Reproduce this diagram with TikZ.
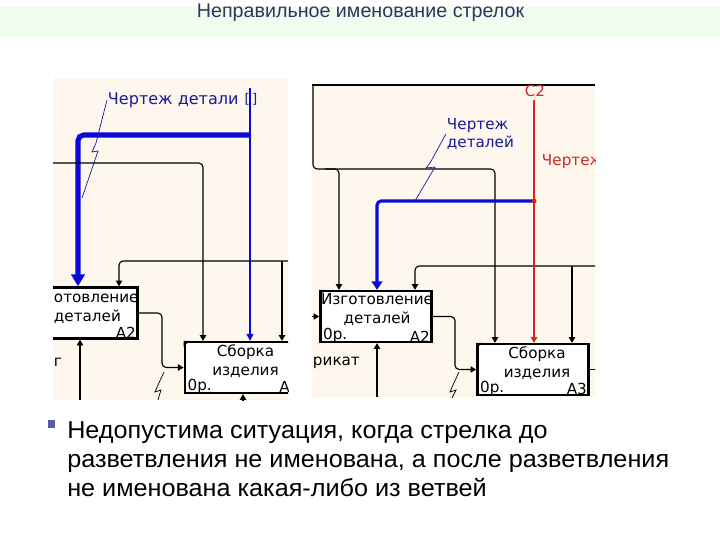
\documentclass[tikz,border=0pt]{standalone}
\usepackage{fontspec}
\setmainfont{Liberation Sans}
\newfontfamily\diagfont{DejaVu Sans}
\usepackage{graphicx}
\usetikzlibrary{arrows.meta,positioning,calc}
\definecolor{idefpaper}{RGB}{253,247,238}
\definecolor{idefblue}{RGB}{10,10,215}
\definecolor{idefnavy}{RGB}{25,25,150}
\definecolor{idefred}{RGB}{215,35,35}
\definecolor{slidegreen}{RGB}{241,252,239}
\definecolor{slideink}{RGB}{50,52,95}
\definecolor{bulletblue}{RGB}{90,90,170}

\begin{document}
\begin{tikzpicture}[x=0.025cm,y=-0.025cm,
  box/.style={draw,line width=1.8pt,fill=white,minimum width=2.78cm,minimum height=1.27cm,inner sep=0pt},
  lbl/.style={font=\diagfont\fontsize{10.8}{13.2}\selectfont,inner sep=0.5pt},
  pipe/.style={line width=0.8pt,rounded corners=3pt},
  tip/.style={-{Triangle[length=4pt,width=4.5pt]}},
  zz/.style={line width=0.5pt}]
\useasboundingbox (0,0) rectangle (720,540);
\fill[slidegreen] (0,7) rectangle (720,37);
\node[font=\fontsize{14}{16}\selectfont,text=slideink,anchor=base,inner sep=0pt] (title) at (360.5,17) {Неправильное именование стрелок};

% left panel
\fill[idefpaper] (53,78) rectangle (288,400);
\begin{scope}
\clip (53,78) rectangle (288,400);
\node[box] (lA2) at (82,313) {};
\node[box] (lA3) at (240.5,367.5) {};
\fill (lA3.north west) -- ++(6,0) -- ++(-6,6) -- cycle;
\node[lbl,anchor=north west,align=left] (lA2t) at (53,293) {отовление\\ деталей};
\node[lbl,anchor=south east] (lA2n) at ([shift={(-2,0)}]lA2.south east) {A2};
\node[lbl,anchor=north,align=center] (lA3t) at ([shift={(5,3)}]lA3.north) {Сборка\\изделия};
\node[lbl,anchor=south west] (lA3c) at ([shift={(3,0)}]lA3.south west) {0р.};
\node[lbl,anchor=south east] (lA3n) at ([shift={(3,0)}]lA3.south east) {A3};
\node[lbl,anchor=west] (lG) at (53,362) {г};
% blue arrows
\node[lbl,text=idefnavy,anchor=west,font=\diagfont\fontsize{11.4}{14}\selectfont] (lDrw) at (107,100) {Чертеж детали};
\node[lbl,text=idefnavy,font=\diagfont\fontsize{9.5}{12}\selectfont] (lTun) at (251,99) {[\kern1.5pt]};
\coordinate (lC) at (250,88);
\coordinate (lSplit) at (250,135);
\coordinate (lBend) at (78,135);
\draw[idefblue,line width=0.8pt,-{Triangle[length=5pt,width=5pt]}] (lC) -- (lC |- lA3.north);
\draw[idefblue,line width=3.6pt,rounded corners=4pt,-{Triangle[length=8.5pt,width=9.5pt]}] (lSplit) -- (lBend) -- (lBend |- lA2.north);
\draw[zz,idefnavy] (lDrw.west) -- (96,143) -- (92,152) -- (98,151) -- (82,198);
% black arrows
\coordinate (lIn) at (53,163);
\coordinate (lK) at (203,163);
\draw[pipe,tip] (lIn) -- (lK) -- (lK |- lA3.north);
\coordinate (lM) at (119,261);
\coordinate (lMr) at (288,261);
\coordinate (lMb) at (282,261);
\draw[pipe,tip] (lMr) -- (lM) -- (lM |- lA2.north);
\draw[pipe,tip] (lMb) -- (lMb |- lA3.north);
\coordinate (lMech) at (80,400);
\draw[pipe,tip] (lMech) -- (lMech |- lA2.south);
\coordinate (lOut) at (162,313);
\draw[pipe,tip] (lA2.east) -- (lOut) -- (lOut |- lA3.west) -- (lA3.west);
\draw[zz] (164,372) -- (158,385) -- (155,392) -- (161,390) -- (158,400);
\coordinate (lOutB) at (243,400);
\draw[pipe,tip] (lOutB) -- (lOutB |- lA3.south);
\end{scope}

% right panel
\fill[idefpaper] (312,83) rectangle (595,397);
\begin{scope}
\clip (312,83) rectangle (595,397);
\node[box] (rA2) at (376,316.5) {};
\node[box] (rA3) at (533,369.5) {};
\foreach \b in {rA2,rA3} \fill (\b.north west) -- ++(6,0) -- ++(-6,6) -- cycle;
\node[lbl,anchor=north,align=center] (rA2t) at ([shift={(1,3)}]rA2.north) {Изготовление\\деталей};
\node[lbl,anchor=south west] (rA2c) at ([shift={(3,0)}]rA2.south west) {0р.};
\node[lbl,anchor=south east] (rA2n) at ([shift={(-2,0)}]rA2.south east) {A2};
\node[lbl,anchor=north,align=center] (rA3t) at ([shift={(4,3)}]rA3.north) {Сборка\\изделия};
\node[lbl,anchor=south west] (rA3c) at ([shift={(3,0)}]rA3.south west) {0р.};
\node[lbl,anchor=south east] (rA3n) at ([shift={(-2,0)}]rA3.south east) {A3};
\node[lbl,anchor=west] (rPf) at (312,363) {рикат};
% black arrows
\coordinate (rTopL) at (312,85);
\coordinate (rTopR) at (595,85);
\draw[line width=1.4pt] (rTopL) -- (rTopR);
\coordinate (rC) at (313,85);
\coordinate (rCb) at (313,169);
\coordinate (rCk) at (495,169);
\coordinate (rCj) at (339,169);
\draw[pipe,tip] (rC) -- (rCb) -- (rCk) -- (rCk |- rA3.north);
\draw[pipe,tip] ([xshift=-10]rCj) -- (rCj) -- (rCj |- rA2.north);
\coordinate (rM) at (415,266);
\coordinate (rMr) at (595,266);
\coordinate (rMb) at (572,266);
\draw[pipe,tip] (rMr) -- (rM) -- (rM |- rA2.north);
\draw[pipe,tip] (rMb) -- (rMb |- rA3.north);
\draw[pipe,tip] ([xshift=-9]rA2.west) -- (rA2.west);
\coordinate (rMech) at (377,397);
\draw[pipe,tip] (rMech) -- (rMech |- rA2.south);
\coordinate (rOut) at (455,316.5);
\draw[pipe,tip] (rA2.east) -- (rOut) -- (rOut |- rA3.west) -- (rA3.west);
\draw[zz] (459,372) -- (453,385) -- (450,392) -- (456,390) -- (452,398);
\draw[pipe] (rA3.east) -- ++(8,0);
% red and blue arrows
\node[lbl,text=idefred] (rC2l) at (535,91) {C2};
\node[lbl,text=idefred,anchor=west] (rDrwR) at (541,162) {Чертеж};
\coordinate (rC2) at (534,100);
\coordinate (rRj) at (534,201);
\coordinate (rBend) at (377,201);
\draw[idefred,line width=0.9pt,tip] (rC2) -- (rC2 |- rA3.north);
\draw[idefblue,line width=2.2pt,rounded corners=3pt,-{Triangle[length=6pt,width=7.5pt]}] (rRj) -- (rBend) -- (rBend |- rA2.north);
\fill[idefred] (rRj) circle[radius=1.8pt];
\node[lbl,text=idefnavy,anchor=north west,align=left] (rDrw) at (446,117) {Чертеж\\деталей};
\draw[zz,idefnavy] (rDrw.west) -- (430,163) -- (426,168) -- (435,167) -- (415,201);
\end{scope}

% note
\fill[bulletblue] (48,420) rectangle (55,428);
\node[anchor=north west,align=left,inner sep=0pt,font=\fontsize{17.4}{20.8}\selectfont] (note) at (67,421)
  {\scalebox{1.03}[1]{Недопустима ситуация, когда стрелка до}\\\scalebox{1.03}[1]{разветвления не именована, а после разветвления}\\\scalebox{1.03}[1]{не именована какая-либо из ветвей}};
\end{tikzpicture}
\end{document}
